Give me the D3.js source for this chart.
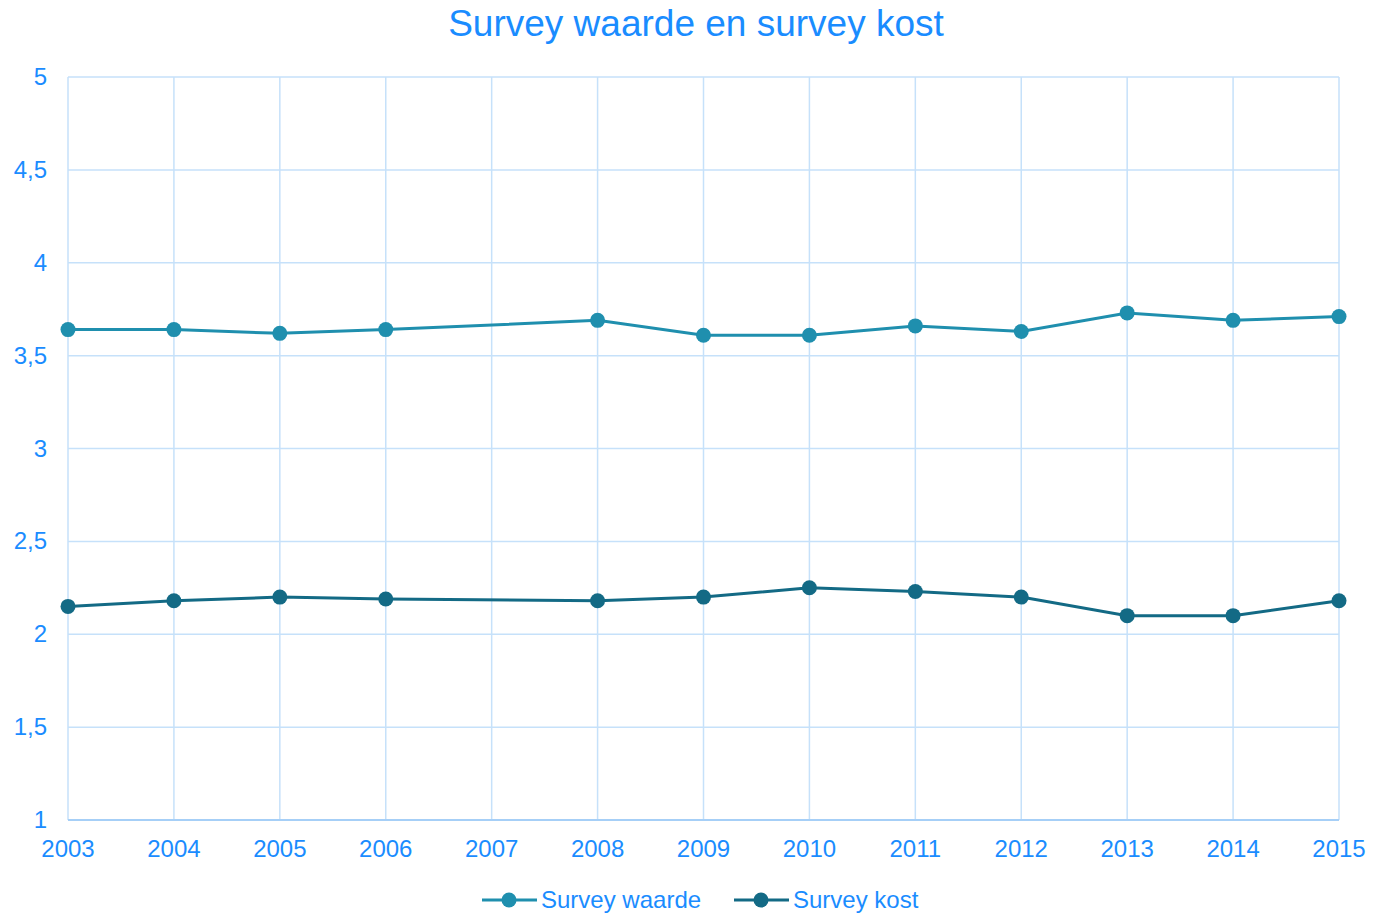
<!DOCTYPE html>
<html>
<head>
<meta charset="utf-8">
<script src="https://cdn.jsdelivr.net/npm/d3@7"></script>
<style>
  body { margin: 0; background: #fff; }
  text { font-family: "Liberation Sans", Arial, sans-serif; fill: #1a8cff; }
</style>
</head>
<body>
<svg id="chart" width="1373" height="914"></svg>
<script>
// jaren op de x-as
const years = [2003, 2004, 2005, 2006, 2007, 2008, 2009, 2010, 2011, 2012, 2013, 2014, 2015];
// 2007 heeft geen meting
const surveyWaarde = [3.64, 3.64, 3.62, 3.64, null, 3.69, 3.61, 3.61, 3.66, 3.63, 3.73, 3.69, 3.71];
const surveyKost = [2.15, 2.18, 2.20, 2.19, null, 2.18, 2.20, 2.25, 2.23, 2.20, 2.10, 2.10, 2.18];
const yTicks = [1, 1.5, 2, 2.5, 3, 3.5, 4, 4.5, 5];
const seriesNames = ['Survey waarde', 'Survey kost'];

const colors = ['#1f8fae', '#136a85'];
const svg = d3.select('#chart');

const plotLeft = 68, plotRight = 1339, plotTop = 77, plotBottom = 820;

const x = d3.scalePoint().domain(years).range([plotLeft, plotRight]);
const y = d3.scaleLinear().domain([1, 5]).range([plotBottom, plotTop]);

// titel
svg.append('text')
  .attr('x', 696).attr('y', 36)
  .attr('text-anchor', 'middle')
  .style('font-size', '37px')
  .text('Survey waarde en survey kost');

// rasterlijnen
svg.append('g').selectAll('line').data(yTicks.slice(1)).join('line')
  .attr('x1', plotLeft).attr('x2', plotRight)
  .attr('y1', d => y(d)).attr('y2', d => y(d))
  .attr('stroke', '#c6e1fa').attr('stroke-width', 1.5);

svg.append('g').selectAll('line').data(years).join('line')
  .attr('x1', d => x(d)).attr('x2', d => x(d))
  .attr('y1', plotTop).attr('y2', plotBottom)
  .attr('stroke', '#c6e1fa').attr('stroke-width', 1.5);

// x-as lijn
svg.append('line')
  .attr('x1', plotLeft).attr('x2', plotRight)
  .attr('y1', plotBottom).attr('y2', plotBottom)
  .attr('stroke', '#a6cff7').attr('stroke-width', 2);

// aslabels
svg.append('g').selectAll('text').data(yTicks).join('text')
  .attr('x', 47).attr('y', d => y(d) + 8)
  .attr('text-anchor', 'end')
  .style('font-size', '24px')
  .text(d => String(d).replace('.', ','));

svg.append('g').selectAll('text').data(years).join('text')
  .attr('x', d => x(d)).attr('y', 857)
  .attr('text-anchor', 'middle')
  .style('font-size', '24px')
  .text(d => d);

// lijnen en punten
[surveyWaarde, surveyKost].forEach((values, i) => {
  const pts = years.map((yr, j) => ({ yr, v: values[j] })).filter(p => p.v !== null);
  const line = d3.line().x(p => x(p.yr)).y(p => y(p.v));
  svg.append('path')
    .datum(pts)
    .attr('d', line)
    .attr('fill', 'none')
    .attr('stroke', colors[i])
    .attr('stroke-width', 3);
  svg.append('g').selectAll('circle').data(pts).join('circle')
    .attr('cx', p => x(p.yr)).attr('cy', p => y(p.v))
    .attr('r', 7.5)
    .attr('fill', colors[i]);
});

// legenda
const legendX = [482, 734];
seriesNames.forEach((name, i) => {
  const g = svg.append('g').attr('transform', `translate(${legendX[i]},900)`);
  g.append('line').attr('x1', 0).attr('x2', 55).attr('y1', 0).attr('y2', 0)
    .attr('stroke', colors[i]).attr('stroke-width', 3);
  g.append('circle').attr('cx', 27).attr('cy', 0).attr('r', 7.5).attr('fill', colors[i]);
  g.append('text').attr('x', 59).attr('y', 8)
    .style('font-size', '24px')
    .text(name);
});
</script>
</body>
</html>
